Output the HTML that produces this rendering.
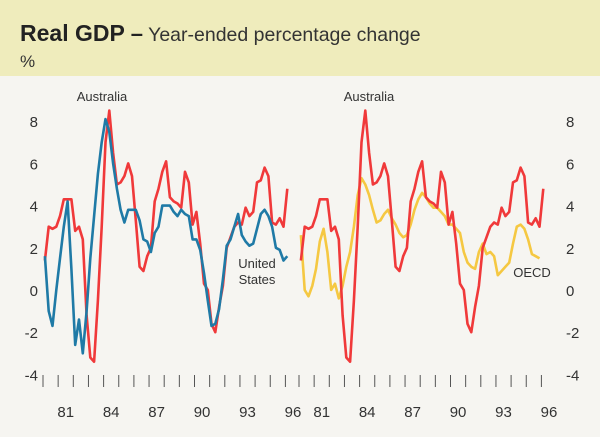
<!DOCTYPE html>
<html><head><meta charset="utf-8"><style>
body{margin:0;width:600px;height:432px;overflow:hidden;background:#f6f5f1;font-family:"Liberation Sans",sans-serif;}
</style></head><body>
<svg width="600" height="432" xmlns="http://www.w3.org/2000/svg">
<rect x="0" y="0" width="600" height="76" fill="#efecbc"/>
<rect x="0" y="76" width="600" height="356" fill="#f6f5f1"/>
<text x="20" y="41" font-size="23" font-weight="bold" fill="#222">Real GDP <tspan font-size="22">–</tspan><tspan font-weight="normal" font-size="19.5" fill="#333"> Year-ended percentage change</tspan></text>
<text x="20" y="67" font-size="17" fill="#333">%</text>
<g id="axes"></g>
<g id="series"></g>
<text x="102" y="101" font-size="13" text-anchor="middle" fill="#333">Australia</text>
<text x="369" y="101" font-size="13" text-anchor="middle" fill="#333">Australia</text>
<text x="257" y="268" font-size="13" text-anchor="middle" fill="#333">United</text>
<text x="257" y="284" font-size="13" text-anchor="middle" fill="#333">States</text>
<text x="532" y="277" font-size="13" text-anchor="middle" fill="#333">OECD</text>
</svg>
<script>
const australia=[1.4,3.0,2.9,3.0,3.5,4.3,4.3,4.3,2.8,3.0,2.4,-1.2,-3.2,-3.4,-0.5,3.0,7.0,8.5,6.5,5.0,5.1,5.4,6.0,5.4,3.3,1.1,0.9,1.6,2.0,4.2,4.8,5.6,6.1,4.4,4.2,4.1,3.9,5.6,5.1,3.1,3.7,2.2,0.3,0.0,-1.6,-2.0,-0.8,0.2,2.0,2.5,3.0,3.2,3.1,3.9,3.5,3.7,5.1,5.2,5.8,5.4,3.2,3.1,3.4,3.0,4.8];
const unitedStates=[1.6,-1.0,-1.7,0.0,1.5,3.0,4.2,1.0,-2.6,-1.4,-3.0,-1.0,1.5,3.5,5.5,7.0,8.1,7.5,6.0,4.8,3.8,3.2,3.8,3.8,3.8,3.3,2.4,2.3,1.8,2.7,3.0,4.0,4.0,4.0,3.7,3.5,3.8,3.6,3.5,2.4,2.4,1.9,0.8,-0.5,-1.7,-1.6,-0.9,0.5,2.1,2.4,3.0,3.6,2.6,2.3,2.1,2.2,2.9,3.6,3.8,3.5,3.0,2.0,1.9,1.4,1.6];
const oecd=[2.6,0.0,-0.3,0.2,1.0,2.3,2.9,1.8,0.0,0.3,-0.4,0.2,1.1,1.8,3.0,4.5,5.3,5.0,4.5,3.8,3.2,3.3,3.6,3.8,3.4,3.1,2.7,2.5,2.6,3.1,3.8,4.3,4.6,4.4,4.1,3.9,3.9,3.7,3.5,3.1,3.1,2.9,2.7,1.8,1.3,1.1,1.0,1.8,2.2,1.7,1.8,1.6,0.7,0.9,1.1,1.3,2.2,3.0,3.1,2.9,2.4,1.7,1.6,1.5];
const yTicks=[8,6,4,2,0,-2,-4];
const xLabels=["81","84","87","90","93","96"];
const xLabelYears=[1981,1984,1987,1990,1993,1996];
const startYear=1980.125, step=0.25;
const NS="http://www.w3.org/2000/svg";
function yS(v){return 290-v*21.1;}
function xS(t,off){return 43+off+(t-1980)*15.15;}
function mk(tag,attrs,parent){const e=document.createElementNS(NS,tag);for(const k in attrs)e.setAttribute(k,attrs[k]);parent.appendChild(e);return e;}
const axes=document.getElementById('axes'), ser=document.getElementById('series');
yTicks.forEach(v=>{
  const t=mk('text',{x:38,y:yS(v)+6,'font-size':15,'text-anchor':'end',fill:'#333'},axes);t.textContent=v;
  
  
  const r=mk('text',{x:566,y:yS(v)+6,'font-size':15,'text-anchor':'start',fill:'#333'},axes);r.textContent=v;
  
  
});
[0,256].forEach(off=>{
  for(let yr=1980;yr<=1996;yr++){
    const l=mk('line',{x1:xS(yr,off),x2:xS(yr,off),y1:375,y2:387,stroke:'#555','stroke-width':1},axes);
    
    
  }
  xLabels.forEach((s,i)=>{
    const t=mk('text',{x:xS(xLabelYears[i]+0.5,off),y:417,'font-size':15,'text-anchor':'middle',fill:'#333'},axes);t.textContent=s;
    
    
  });
});
function line(data,off,color,name){
  const pts=data.map((v,i)=>xS(startYear+i*step,off).toFixed(1)+','+yS(v).toFixed(1)).join(' ');
  const p=mk('polyline',{points:pts,fill:'none',stroke:color,'stroke-width':2.6,'stroke-linejoin':'round'},ser);
  
  
}
line(australia,0,'#f0393a','australia-line-left');
line(unitedStates,0,'#1f7aa6','united-states-line');
line(oecd,256,'#f5c842','oecd-line');
line(australia,256,'#f0393a','australia-line-right');
</script>
</body></html>
